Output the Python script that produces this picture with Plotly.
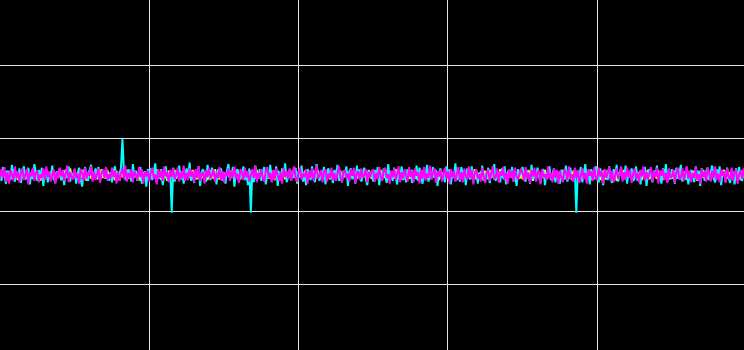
import plotly.graph_objects as go

# sample positions 0..499
x_vals = list(range(500))

# signal values in hundredths
cyan_vals = [
    4,-8,11,-3,-12,6,2,-7,14,-5,-9,5,-1,9,-11,3,12,-6,-3,10,-13,4,-6,15,0,
    -8,7,-4,10,-15,2,8,-10,1,-5,13,-3,-11,5,-2,9,-7,4,-14,8,-3,12,-9,3,-4,
    7,-12,2,10,-6,-16,4,11,-3,-8,6,14,-7,0,9,-4,11,-9,3,7,-5,10,-2,-8,4,
    -10,5,12,-3,-7,2,9,50,4,-6,-5,8,-2,-9,15,-4,6,-8,3,11,-12,0,5,-16,8,
    -3,9,-7,4,16,-10,2,-5,8,-14,3,12,-4,-8,7,-52,10,-9,5,-3,13,-6,4,-12,2,
    9,-5,17,-8,3,-11,6,-2,12,-15,4,8,-4,-9,14,0,-7,10,-3,5,-13,8,-4,9,-8,
    3,-12,6,15,-5,-2,11,-16,4,8,-9,2,-4,12,-7,5,-14,9,-52,6,-10,13,-2,-5,8,
    -8,4,11,-13,2,-4,14,-9,6,-3,12,-15,5,-7,9,-1,16,-10,-3,3,-8,7,-4,10,-12,
    5,-3,13,-9,2,-14,8,4,-7,12,-4,-10,15,0,-8,6,-3,11,-13,4,9,-5,2,-11,7,
    -4,14,-8,3,-10,6,-2,12,-15,5,9,-6,3,-12,13,-4,8,-9,2,10,-5,-14,6,-3,4,
    -9,7,-2,11,-14,4,-6,9,1,-11,15,-5,3,-8,10,-2,-13,6,-4,12,-7,2,-10,8,-1,
    6,-11,3,-5,13,-8,10,-3,-12,5,-1,14,-9,2,-6,11,-4,7,-15,3,9,-7,1,-10,12,
    -2,8,-13,5,-4,16,-7,2,-9,11,-3,6,-14,9,-1,-6,12,-10,4,7,-12,3,-5,13,-8,
    2,-6,10,-11,4,-3,15,-8,6,-1,-10,9,-5,12,-13,3,7,-4,11,-9,1,-15,8,-2,5,
    11,-4,-9,6,2,-12,14,-6,3,-8,10,-2,-11,5,8,-14,4,-3,12,-7,0,9,-10,6,-5,
    -12,7,3,-6,13,-9,1,10,-4,-8,5,-52,6,-3,11,-10,2,15,-7,4,-13,8,-1,-6,12,
    4,-10,9,-2,-14,6,3,-7,12,-5,-11,8,-1,14,-9,2,10,-6,-4,13,-12,5,-3,9,-8,
    -5,12,-8,3,-13,7,-2,11,-15,4,8,-3,-10,6,-1,13,-7,2,-12,9,-4,15,-9,1,-6,
    8,-3,-12,10,-5,2,14,-9,4,-6,11,-13,3,7,-4,-10,12,-2,6,-15,9,-1,-8,5,10,
    -7,3,13,-5,-10,8,-2,12,-14,6,1,-9,10,-4,-11,7,3,-13,9,-6,11,-3,-8,4,-2,
]
magenta_vals = [
    -5,8,-3,11,-9,4,-12,7,1,-8,12,-4,5,-10,2,9,-7,0,8,-13,4,-2,10,-8,3,
    6,-10,1,-4,9,-7,12,-3,5,-9,0,8,-12,4,-5,10,-2,7,-8,3,13,-10,4,-3,-6,
    9,-4,2,-12,8,3,-8,10,-5,4,-1,12,-9,5,-7,0,9,-11,3,7,-4,11,-8,1,-5,
    10,-3,6,-12,4,-8,2,9,-5,13,-9,3,-4,8,-10,5,0,-7,11,-3,8,-12,4,-2,6,
    -9,3,10,-5,1,-13,8,-4,6,-8,12,-2,4,-10,7,-3,9,-6,0,10,-9,4,-5,13,-8,
    3,-7,9,-2,5,-10,8,-4,12,-8,1,4,-12,7,-3,10,-5,0,8,-9,3,-4,11,-7,5,
    -10,4,-1,9,-8,6,-3,12,-5,2,-11,8,4,-7,10,-3,5,-9,1,8,-4,13,-10,3,-5,
    8,-2,-9,5,11,-4,3,-10,7,-6,9,0,-8,4,-12,10,-3,5,-5,9,-8,2,12,-4,-9,
    4,10,-7,2,-3,8,-12,5,-4,9,-8,3,13,-5,-1,7,-10,4,8,-9,2,-4,10,-7,3,
    -8,5,12,-3,-10,4,7,-5,2,-9,8,-1,10,-12,3,5,-7,9,-4,0,8,-10,4,-3,6,
    7,-9,3,-6,11,-2,-8,5,10,-4,1,-12,6,-3,9,-7,2,12,-10,4,-5,8,-1,-9,11,
    -3,6,-10,9,-1,4,-12,7,-5,11,-8,2,-4,13,-6,3,9,-11,5,-2,7,-9,1,10,-5,
    5,-12,8,-3,6,-9,2,11,-7,4,-10,9,-2,-6,12,-4,7,-13,3,8,-5,1,-9,10,-3,
    -11,4,7,-8,2,12,-5,-3,9,-10,5,-1,11,-7,3,-12,8,-4,6,-9,10,-2,-6,4,9,
    2,-8,11,-5,3,-11,7,-2,10,-9,4,6,-13,8,-3,1,-7,12,-5,3,-10,9,-4,7,-12,
    6,-3,-10,8,4,-7,12,-5,1,-9,10,-4,7,-11,2,9,-6,3,-12,8,-1,5,-8,11,-4,
    -7,10,-2,5,-12,8,-4,3,11,-8,6,-10,2,9,-5,-1,12,-9,4,-6,10,-3,7,-11,1,
    9,-5,3,-10,7,-2,12,-8,4,-6,1,11,-9,5,-3,10,-12,6,-1,8,-7,3,-11,9,-4,
    -2,7,-11,4,10,-6,-3,9,-8,2,12,-5,6,-10,3,-4,11,-7,1,-12,8,-3,5,-9,10,
    3,-9,6,-4,12,-7,2,-10,8,-1,5,-11,9,-3,-6,10,-8,4,7,-12,1,6,-5,9,-7,
]
yellow_vals = [
    3,-4,7,-1,5,-6,2,4,-5,8,-3,0,-7,4,1,-4,6,-2,5,-7,3,-1,8,-5,1,
    -3,5,-8,2,4,-4,6,-1,-5,3,7,-6,0,4,-3,5,-7,1,6,-4,3,-5,9,-2,-3,
    5,-6,3,1,-4,7,-3,4,-8,0,6,-5,3,-1,5,-6,4,-3,8,-4,2,-5,6,0,-4,
    4,-2,-7,5,3,-8,6,-3,2,-4,7,-5,4,0,-6,3,5,-4,1,-8,6,-2,4,-5,3,
    -2,6,-4,3,-5,8,-1,4,-7,2,5,-3,-8,6,0,-4,3,7,-5,2,-3,5,-6,4,-1,
    6,-5,2,-3,7,-4,4,-6,3,0,-5,6,-2,4,-7,3,5,-3,-4,8,-2,1,-6,5,-3,
    3,-7,5,1,-4,6,-3,4,-5,7,-2,-6,3,5,-4,2,-8,6,0,-3,4,-5,7,-1,3,
    -4,5,-6,3,2,-5,8,-3,4,-7,0,6,-4,3,-2,5,-6,4,-3,7,-5,2,-4,6,-2,
    5,-3,2,-6,4,7,-5,3,-2,-4,6,-7,3,5,-3,1,-5,8,-4,0,4,-6,3,-2,5,
    -5,4,-2,6,-7,3,-3,5,2,-6,7,-4,0,4,-5,3,6,-8,2,-3,5,-4,7,-2,-5,
    4,-6,1,5,-3,7,-5,2,-4,6,-1,-7,4,3,-5,8,-2,-4,5,-6,2,4,-3,6,-5,
    -3,7,-4,2,-6,5,3,-5,6,-2,-4,8,-6,1,4,-3,7,-5,2,-7,5,-1,3,-4,6,
    2,-5,6,-3,4,-7,1,5,-4,3,-6,7,-2,-3,6,-5,4,-1,8,-6,3,-4,5,-2,-7,
    6,-2,-5,7,-4,3,-6,4,1,-5,8,-3,5,-7,2,-1,6,-4,3,-6,5,-3,7,-5,2,
    -6,4,3,-5,7,-2,5,-8,4,-3,6,0,-5,3,-4,7,-6,2,5,-3,-7,4,-2,6,-4,
    5,-3,7,-6,2,4,-5,3,-7,6,-1,5,-4,2,-6,8,-3,4,-5,1,6,-7,3,-2,4,
    -4,6,-7,3,5,-2,-6,7,-3,4,-5,2,6,-8,3,-1,5,-4,7,-6,2,-3,4,-5,6,
    3,-5,4,-2,6,-7,5,-3,1,7,-6,3,-4,5,-2,-5,6,-3,4,-7,8,-4,2,-6,3,
    -5,2,6,-4,-3,7,-6,4,-2,5,-7,3,1,-5,6,-3,4,-8,5,-2,-4,7,-3,5,-6,
    4,-7,3,5,-6,2,-4,6,-5,3,7,-3,-5,4,-2,6,-6,3,5,-4,2,-7,6,-3,1,
]

series = [
    ("yellow", yellow_vals, "#ffff00"),
    ("cyan", cyan_vals, "#00ffff"),
    ("magenta", magenta_vals, "#ff00ff"),
]

fig = go.Figure()
for name, vals, color in series:
    fig.add_trace(go.Scatter(
        x=x_vals, y=[v / 100 for v in vals], mode="lines", name=name,
        line=dict(color=color, width=2), showlegend=False,
    ))

fig.update_layout(
    width=744, height=350,
    margin=dict(l=0, r=0, t=0, b=0),
    paper_bgcolor="#000000", plot_bgcolor="#000000",
    xaxis=dict(range=[0, 498.3], dtick=100, tick0=0, showgrid=True,
               gridcolor="#e6e6e6", gridwidth=1, zeroline=False,
               showticklabels=False, ticks=""),
    yaxis=dict(range=[-2.407, 2.407], dtick=1, tick0=0.5, showgrid=True,
               gridcolor="#e6e6e6", gridwidth=1, zeroline=False,
               showticklabels=False, ticks=""),
)

fig.write_html("out.html")
